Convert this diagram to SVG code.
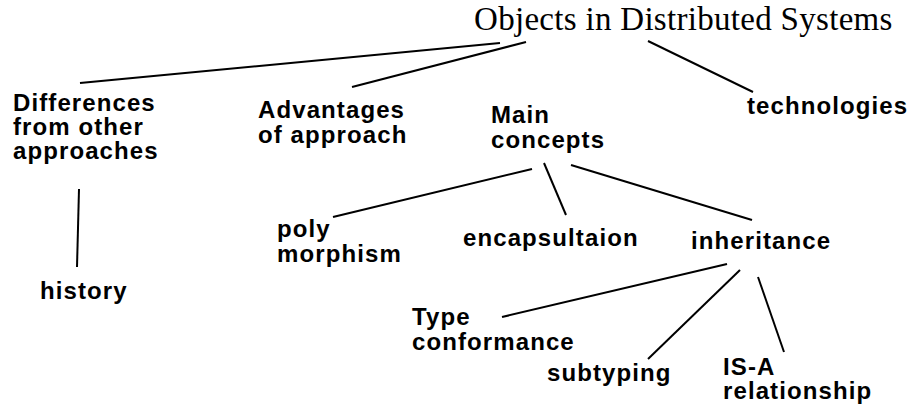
<svg xmlns="http://www.w3.org/2000/svg" width="916" height="408" viewBox="0 0 916 408">
  <style>
    .title { font-family: "Liberation Serif", "Times New Roman", serif; font-size: 33px; letter-spacing: 0.3px; fill: #000; }
    .label { font-family: "Liberation Sans", Arial, Helvetica, sans-serif; font-size: 24px; font-weight: bold; letter-spacing: 1.1px; fill: #000; }
    .edge { stroke: #000; stroke-width: 2; fill: none; stroke-linecap: butt; }
  </style>
  <rect width="916" height="408" fill="#fff"/>

  <!-- tree branches -->
  <g id="connectors">
    <line class="edge" x1="500" y1="43" x2="80" y2="83"/>
    <line class="edge" x1="526" y1="42" x2="352" y2="87"/>
    <line class="edge" x1="648" y1="41" x2="753" y2="92"/>
    <line class="edge" x1="79" y1="189" x2="77" y2="267"/>
    <line class="edge" x1="532" y1="169" x2="333" y2="217"/>
    <line class="edge" x1="544" y1="163" x2="566" y2="215"/>
    <line class="edge" x1="571" y1="165" x2="752" y2="220"/>
    <line class="edge" x1="727" y1="264" x2="502" y2="317"/>
    <line class="edge" x1="740" y1="270" x2="648" y2="359"/>
    <line class="edge" x1="758" y1="277" x2="784" y2="352"/>
  </g>

  <g id="root">
    <text class="title" x="474" y="30">Objects in Distributed Systems</text>
  </g>
  <g id="differences">
    <text class="label" x="13" y="111">Differences</text>
    <text class="label" x="13" y="135">from other</text>
    <text class="label" x="13" y="159">approaches</text>
  </g>
  <g id="advantages">
    <text class="label" x="258" y="118">Advantages</text>
    <text class="label" x="258" y="143">of approach</text>
  </g>
  <g id="main-concepts">
    <text class="label" x="491" y="123">Main</text>
    <text class="label" x="491" y="148">concepts</text>
  </g>
  <g id="technologies">
    <text class="label" x="747" y="114">technologies</text>
  </g>
  <g id="history">
    <text class="label" x="40" y="299">history</text>
  </g>
  <g id="polymorphism">
    <text class="label" x="277" y="237">poly</text>
    <text class="label" x="277" y="262">morphism</text>
  </g>
  <g id="encapsulation">
    <text class="label" x="463" y="246">encapsultaion</text>
  </g>
  <g id="inheritance">
    <text class="label" x="691" y="249">inheritance</text>
  </g>
  <g id="type-conformance">
    <text class="label" x="412" y="325">Type</text>
    <text class="label" x="412" y="350">conformance</text>
  </g>
  <g id="subtyping">
    <text class="label" x="547" y="381">subtyping</text>
  </g>
  <g id="is-a">
    <text class="label" x="723" y="375">IS-A</text>
    <text class="label" x="723" y="399">relationship</text>
  </g>
</svg>
